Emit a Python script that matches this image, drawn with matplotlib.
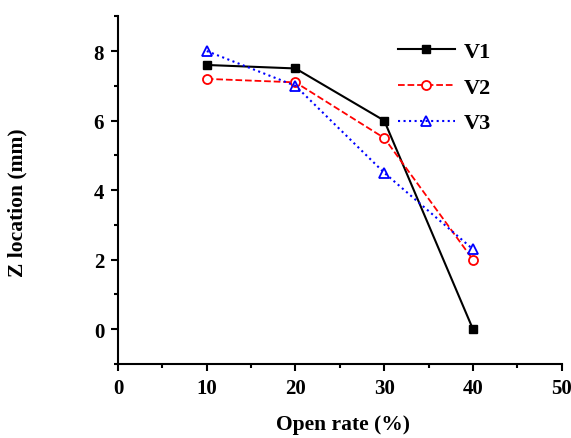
import matplotlib.pyplot as plt
from matplotlib.ticker import MultipleLocator

# data
open_rate = [10, 20, 30, 40]
v1 = [7.6, 7.5, 6.0, 0.0]
v2 = [7.2, 7.1, 5.5, 2.0]
v3 = [8.0, 7.0, 4.5, 2.3]

plt.rcParams['font.family'] = ['Liberation Serif', 'DejaVu Serif']
plt.rcParams['font.weight'] = 'bold'

fig = plt.figure(figsize=(5.71, 4.39), dpi=100)
ax = fig.add_axes([0.2067, 0.1686, 0.777, 0.792])

ax.plot(open_rate, v1, color='black', linestyle='-', linewidth=1.5,
        marker='s', markersize=6, markerfacecolor='black', label='V1')
ax.plot(open_rate, v2, color='red', linestyle='--', linewidth=1.3,
        marker='o', markersize=6.5, markerfacecolor='white', markeredgewidth=1.3, label='V2')
ax.plot(open_rate, v3, color='blue', linestyle=':', linewidth=1.5,
        marker='^', markersize=7, markerfacecolor='none', markeredgewidth=1.3, label='V3')

ax.set_xlim(0, 50)
ax.set_ylim(-1, 9)
ax.xaxis.set_major_locator(MultipleLocator(10))
ax.xaxis.set_minor_locator(MultipleLocator(5))
ax.yaxis.set_major_locator(MultipleLocator(2))
ax.yaxis.set_minor_locator(MultipleLocator(1))

ax.spines['top'].set_visible(False)
ax.spines['right'].set_visible(False)
ax.spines['left'].set_linewidth(1.5)
ax.spines['bottom'].set_linewidth(1.5)
ax.tick_params(which='major', direction='out', length=5, width=1.5, labelsize=15, pad=5)
ax.tick_params(which='minor', direction='out', length=3, width=1.5)
for lab in ax.get_xticklabels() + ax.get_yticklabels():
    lab.set_fontweight('bold')

ax.set_xlabel('Open rate (%)', fontsize=15.5, fontweight='bold')
ax.set_ylabel('Z location (mm)', fontsize=15.5, fontweight='bold')
ax.xaxis.set_label_coords(0.507, -0.145)
ax.yaxis.set_label_coords(-0.205, 0.468)

ax.legend(loc='upper left', bbox_to_anchor=(0.585, 0.985), frameon=False,
          prop={'size': 16, 'weight': 'bold'}, handlelength=2.6, handletextpad=0.4,
          labelspacing=0.68)

fig.savefig('out.png', dpi=100)
